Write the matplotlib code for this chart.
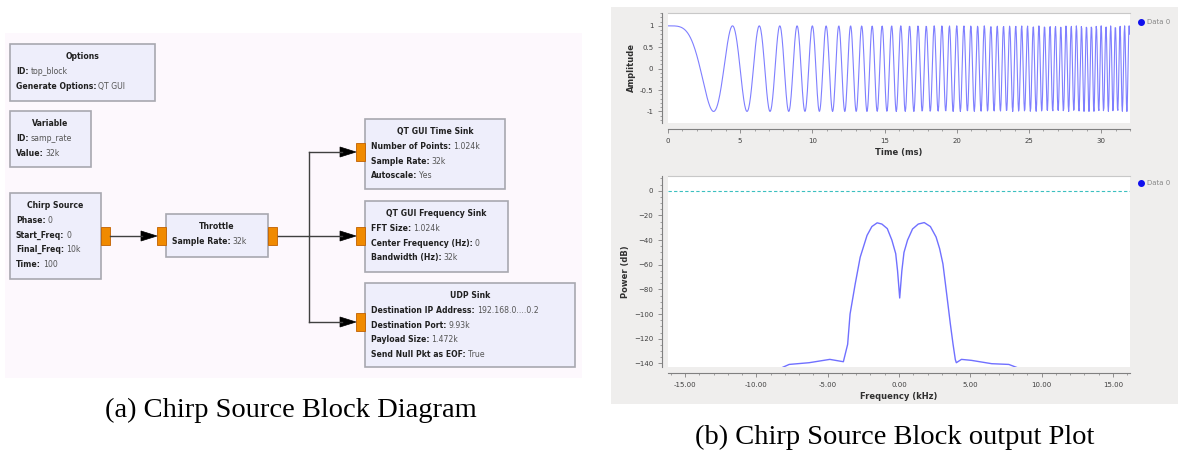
import numpy as np
import matplotlib.pyplot as plt
from matplotlib.patches import Rectangle, Polygon
from matplotlib.ticker import MultipleLocator, FormatStrFormatter

# Chirp source settings
samp_rate = 32000      # Hz
start_freq = 0         # Hz
final_freq = 10000     # Hz
sweep_time = 0.1       # s (Time: 100 ms)
n_points = 1024        # time sink: number of points

# Frequency sink trace
freq_khz = [-8.3, -7.7, -6.3, -4.85, -3.9, -3.6, -3.43, -3.07, -2.72, -2.24, -1.9,
            -1.53, -1.2, -0.82, -0.5, -0.23, -0.1, 0.05, 0.2, 0.35, 0.6, 0.95,
            1.35, 1.77, 2.2, 2.6, 2.85, 3.08, 3.25, 3.43, 3.6, 3.79, 3.95, 4.02,
            4.38, 5.08, 6.5, 7.7, 8.4]
power_db = [-144, -140.9, -139.5, -136.8, -138.7, -124.6, -100, -75.6, -53.9, -36.2, -29,
            -26, -27, -30.7, -40, -51, -65, -87, -65, -50, -40, -31,
            -27, -25.8, -29, -37.5, -47, -59.3, -75, -91.9, -108, -124.5, -137, -139.5,
            -136.8, -137.6, -140.3, -140.9, -144]
noise_floor_db = 0

# Block diagram: title and (key, value) lines for each block
block_titles = ['Options', 'Variable', 'Chirp Source', 'Throttle',
                'QT GUI Time Sink', 'QT GUI Frequency Sink', 'UDP Sink']
block_lines = [
    [('ID:', 'top_block'), ('Generate Options:', 'QT GUI')],
    [('ID:', 'samp_rate'), ('Value:', '32k')],
    [('Phase:', '0'), ('Start_Freq:', '0'), ('Final_Freq:', '10k'), ('Time:', '100')],
    [('Sample Rate:', '32k')],
    [('Number of Points:', '1.024k'), ('Sample Rate:', '32k'), ('Autoscale:', 'Yes')],
    [('FFT Size:', '1.024k'), ('Center Frequency (Hz):', '0'), ('Bandwidth (Hz):', '32k')],
    [('Destination IP Address:', '192.168.0....0.2'), ('Destination Port:', '9.93k'),
     ('Payload Size:', '1.472k'), ('Send Null Pkt as EOF:', 'True')],
]
# box placement in pixels (x, y, w, h)
block_boxes = [(10, 44, 145, 57), (10, 111, 81, 56), (10, 193, 91, 86), (166, 214, 102, 43),
               (365, 119, 140, 70), (365, 201, 143, 71), (365, 283, 210, 84)]

fig = plt.figure(figsize=(11.78, 4.5), dpi=100)

# full-figure canvas in pixel units for the diagram and panel backgrounds
canvas = fig.add_axes([0, 0, 1, 1])
canvas.set_xlim(0, 1178)
canvas.set_ylim(450, 0)
canvas.axis('off')

canvas.add_patch(Rectangle((5, 33), 577, 345, fc='#fdf8fd', ec='none'))
canvas.add_patch(Rectangle((611, 7), 567, 397, fc='#efeeed', ec='none'))

renderer = fig.canvas.get_renderer()
text_kw = dict(fontsize=5.6, va='center')

for (x, y, w, h), title, lines in zip(block_boxes, block_titles, block_lines):
    canvas.add_patch(Rectangle((x, y), w, h, fc='#eeeefb', ec='#a8a8b0', lw=1.2))
    canvas.text(x + w / 2, y + 12.5, title, ha='center', fontweight='bold', color='#202020', **text_kw)
    for i, (key, val) in enumerate(lines):
        ty = y + 27.5 + 14.7 * i
        t = canvas.text(x + 6, ty, key, ha='left', fontweight='bold', color='#202020', **text_kw)
        kw = t.get_window_extent(renderer).width
        canvas.text(x + 6 + kw + 2, ty, val, ha='left', color='#555555', **text_kw)

# ports
for px, py in [(101, 227), (157, 227), (268, 227), (356, 143), (356, 227), (356, 313)]:
    canvas.add_patch(Rectangle((px, py), 9, 18, fc='#f08a00', ec='#c06000', lw=0.6))

# connections
line_kw = dict(color='#404040', lw=1.0)
canvas.plot([110, 142], [236, 236], **line_kw)
canvas.plot([278, 309], [236, 236], **line_kw)
canvas.plot([309, 309], [152, 322], **line_kw)
for y in [152, 236, 322]:
    canvas.plot([309, 342], [y, y], **line_kw)


def arrow_head(tip_x, y):
    canvas.add_patch(Polygon([(tip_x - 16, y - 5), (tip_x, y), (tip_x - 16, y + 5)],
                             closed=True, fc='black', ec='black', lw=0.5))


arrow_head(157, 236)
for y in [152, 236, 322]:
    arrow_head(356, y)

# captions
canvas.text(291, 410, '(a) Chirp Source Block Diagram', ha='center', va='center',
            family='Liberation Serif', fontsize=20.5)
canvas.text(895, 437, '(b) Chirp Source Block output Plot', ha='center', va='center',
            family='Liberation Serif', fontsize=20.5)

# legends ("Data 0")
for ly in [22, 183]:
    canvas.plot(1141, ly, 'o', color='#1010ee', ms=4)
    canvas.text(1147, ly, 'Data 0', fontsize=5, va='center', color='#888888')


def style_plot(ax):
    ax.set_facecolor('white')
    ax.spines['right'].set_visible(False)
    ax.spines['top'].set_color('#c8c8c8')
    for s in ['left', 'bottom']:
        ax.spines[s].set_position(('outward', 4))
        ax.spines[s].set_color('#808080')
        ax.spines[s].set_linewidth(0.8)
    ax.tick_params(which='major', labelsize=5, colors='#808080', labelcolor='#404040',
                   direction='out', length=3, width=0.6)
    ax.tick_params(which='minor', colors='#808080', direction='out', length=1.5, width=0.5)


# time sink plot
t_ms = np.arange(n_points) / samp_rate * 1000
rate = (final_freq - start_freq) / sweep_time
t_s = t_ms / 1000
amplitude = np.cos(2 * np.pi * (start_freq * t_s + 0.5 * rate * t_s ** 2))

ax1 = fig.add_axes([0.567, 0.7267, 0.3923, 0.2444])
ax1.plot(t_ms, amplitude, color='#7f7fff', lw=0.8)
ax1.set_xlim(0, 32)
ax1.set_ylim(-1.27, 1.3)
ax1.xaxis.set_major_locator(MultipleLocator(5))
ax1.xaxis.set_minor_locator(MultipleLocator(1))
ax1.yaxis.set_minor_locator(MultipleLocator(0.1))
ax1.set_yticks([-1, -0.5, 0, 0.5, 1])
ax1.set_yticklabels(['-1', '-0.5', '0', '0.5', '1'])
style_plot(ax1)
ax1.set_xlabel('Time (ms)', fontsize=6, fontweight='bold', color='#303030', labelpad=3)
ax1.set_ylabel('Amplitude', fontsize=6, fontweight='bold', color='#303030', labelpad=3)

# frequency sink plot
ax2 = fig.add_axes([0.567, 0.1844, 0.3923, 0.4245])
ax2.axhline(noise_floor_db, color='#3cc0c0', lw=0.8, ls=(0, (3, 2)))
ax2.plot(freq_khz, power_db, color='#7070ff', lw=1.0)
ax2.set_xlim(-16.2, 16.2)
ax2.set_ylim(-143, 12)
ax2.xaxis.set_major_locator(MultipleLocator(5))
ax2.xaxis.set_minor_locator(MultipleLocator(1))
ax2.xaxis.set_major_formatter(FormatStrFormatter('%.2f'))
ax2.yaxis.set_major_locator(MultipleLocator(20))
ax2.yaxis.set_minor_locator(MultipleLocator(5))
style_plot(ax2)
ax2.set_xlabel('Frequency (kHz)', fontsize=6, fontweight='bold', color='#303030', labelpad=3)
ax2.set_ylabel('Power (dB)', fontsize=6, fontweight='bold', color='#303030', labelpad=3)

plt.savefig('out.png', dpi=100)
plt.close()
